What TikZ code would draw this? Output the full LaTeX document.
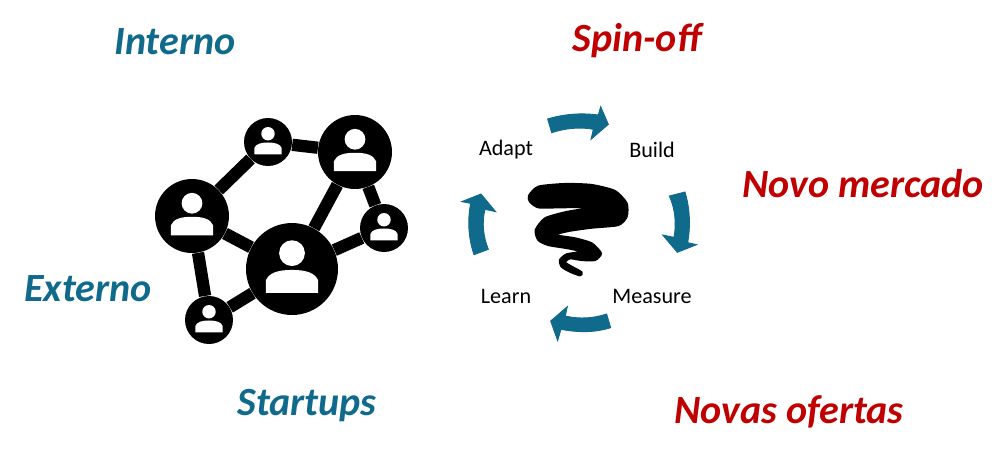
\documentclass[tikz,border=0pt]{standalone}
\usepackage{fontspec}
\setmainfont{Carlito}
\definecolor{tealblue}{HTML}{0F6A8C}
\definecolor{darkred}{HTML}{C00000}
\tikzset{
  netnode/.style={circle,fill=black,inner sep=0pt,minimum size=#1*0.04cm},
  netlink/.style={line width=7pt},
  cycleword/.style={font=\fontsize{12.6}{15}\selectfont,inner sep=0pt},
  tealword/.style={font=\fontsize{22.8}{27}\selectfont\bfseries\itshape,text=tealblue,inner sep=0pt},
  redword/.style={font=\fontsize{22.8}{27}\selectfont\bfseries\itshape,text=darkred,inner sep=0pt},
  cyclearrow/.style={fill=tealblue,draw=tealblue,line width=.5pt},
  personicon/.pic={
    \fill[white] (0,-.345) circle (.28);
    \fill[white] (-.57,.52) -- (-.57,.25) .. controls (-.5,.08) and (-.3,.02) .. (0,.02)
      .. controls (.3,.02) and (.5,.08) .. (.57,.25) -- (.57,.52) -- cycle;
  }
}
\begin{document}
\begin{tikzpicture}[x=0.02cm,y=-0.02cm]
\useasboundingbox (0,0) rectangle (1008,458);
\node[tealword] (interno) at (175,42) {Interno};
\node[redword] (spinoff) at (637,41) {Spin-off};
\node[redword] (novomercado) at (863,184) {Novo mercado};
\node[tealword] (externo) at (88,289) {Externo};
\node[tealword] (startups) at (307,406) {Startups};
\node[redword] (novasofertas) at (789,412) {Novas ofertas};
\node[netnode=46] (hub) at (292,269) {};
\node[netnode=37] (topright) at (355,152) {};
\node[netnode=37] (left) at (192,216) {};
\node[netnode=24] (top) at (268,142) {};
\node[netnode=24] (right) at (384,228) {};
\node[netnode=24] (bottom) at (209,320) {};
\draw[netlink] (left) -- (top);
\draw[netlink] (top) -- (topright);
\draw[netlink] (topright) -- (right);
\draw[netlink] (topright) -- (hub);
\draw[netlink] (right) -- (hub);
\draw[netlink] (left) -- (hub);
\draw[netlink] (left) -- (bottom);
\draw[netlink] (bottom) -- (hub);
\pic[scale=46] at (hub) {personicon};
\pic[scale=37] at (topright) {personicon};
\pic[scale=37] at (left) {personicon};
\pic[scale=24] at (top) {personicon};
\pic[scale=24] at (right) {personicon};
\pic[scale=24] at (bottom) {personicon};
\node[cycleword] (adapt) at (506,150) {Adapt};
\node[cycleword] (build) at (652,150) {Build};
\node[cycleword] (measure) at (652,296) {Measure};
\node[cycleword] (learn) at (506,296) {Learn};
\begin{scope}[shift={(450,90)},x=0.02cm/3,y=-0.02cm/3]
\filldraw[cyclearrow] (293,87) .. controls (340,72) and (395,68) .. (445,75) -- (452,50) -- (475,103)
  -- (423,148) -- (430,118) .. controls (390,110) and (345,115) .. (305,128) -- cycle;
\filldraw[cyclearrow] (705,306) .. controls (720,355) and (722,410) .. (713,458) -- (740,464) -- (682,487)
  -- (638,435) -- (672,442) .. controls (680,400) and (675,355) .. (658,318) -- cycle;
\filldraw[cyclearrow] (482,713) .. controls (435,728) and (385,728) .. (333,718) -- (323,752) -- (302,693)
  -- (352,650) -- (346,678) .. controls (390,688) and (430,685) .. (470,672) -- cycle;
\filldraw[cyclearrow] (72,494) .. controls (55,445) and (52,390) .. (62,340) -- (35,335) -- (93,312)
  -- (137,365) -- (105,358) .. controls (95,400) and (100,440) .. (115,478) -- cycle;
\end{scope}
\begin{scope}[shift={(525,175)},x=0.02cm/3,y=-0.02cm/3]
\filldraw[line width=1.2pt,line join=round] plot[smooth cycle,tension=.4] coordinates {(12,62) (40,35) (120,27) (200,30) (270,48) (305,85)
  (305,125) (280,150) (200,158) (130,168) (90,180) (150,190) (200,205) (228,235) (210,255) (170,255)
  (135,250) (120,262) (140,275) (170,292) (165,301) (135,290) (110,275) (105,255) (125,238) (170,230)
  (130,220) (70,210) (40,195) (32,165) (60,130) (120,112) (180,102) (225,100) (170,96) (100,97) (40,97) (15,80)};
\end{scope}
\end{tikzpicture}
\end{document}
